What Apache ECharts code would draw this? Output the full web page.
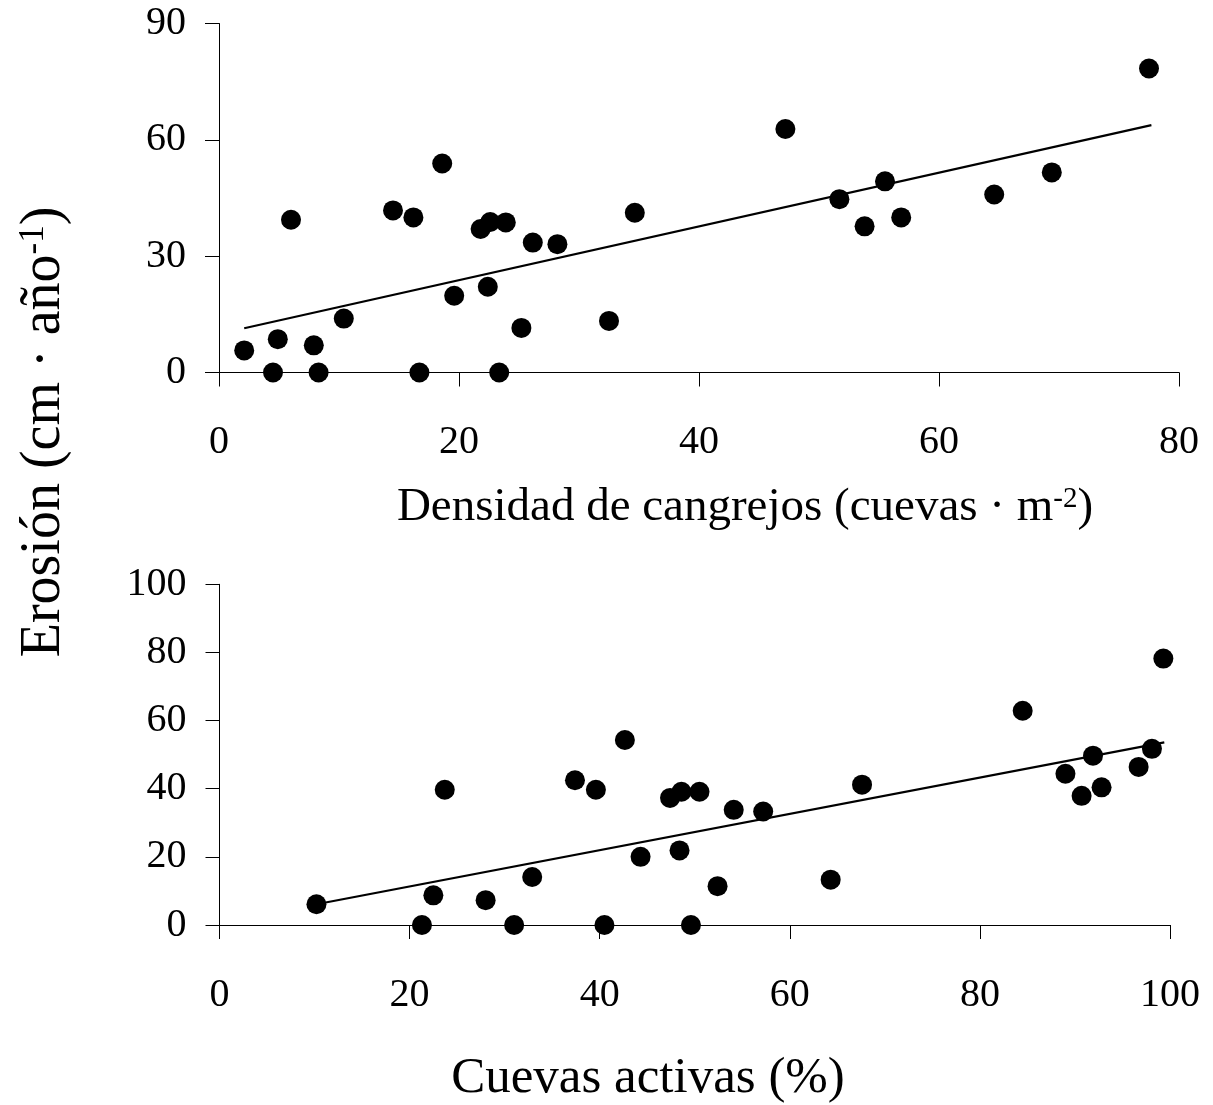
<!DOCTYPE html>
<html>
<head>
<meta charset="utf-8">
<script src="https://cdn.jsdelivr.net/npm/echarts@6/dist/echarts.min.js"></script>
<style>
html,body{margin:0;padding:0;background:#fff;}
#chart{width:1213px;height:1105px;}
</style>
</head>
<body>
<div id="chart"></div>
<script>
// Top panel: crab density (burrows per m2) vs erosion
const densityX = [2.1, 4.5, 4.9, 6.0, 7.9, 8.3, 10.4, 14.5, 16.2, 16.7, 18.6, 19.6, 21.8, 22.6, 22.4, 23.35, 23.9, 25.2, 26.15, 28.2, 32.5, 34.65, 47.2, 51.7, 53.8, 55.5, 56.85, 64.6, 69.4, 77.5];
const densityErosion = [5.7, 0, 8.6, 39.4, 7.0, 0, 13.9, 41.8, 40.0, 0, 53.9, 19.8, 37.0, 38.8, 22.1, 0, 38.7, 11.5, 33.5, 33.1, 13.3, 41.2, 62.8, 44.7, 37.7, 49.3, 40.0, 45.9, 51.6, 78.4];
const densityTrendX = [2.1, 77.7];
const densityTrendY = [11.4, 63.8];

// Bottom panel: active burrows (%) vs erosion
const activeX = [10.2, 21.3, 22.5, 23.7, 28.0, 31.0, 32.9, 37.4, 39.6, 40.5, 42.65, 44.3, 47.4, 48.6, 48.4, 49.6, 50.5, 52.4, 54.1, 57.2, 64.3, 67.6, 84.5, 89.0, 90.7, 91.9, 92.8, 96.7, 98.1, 99.3];
const activeErosion = [6.1, 0, 8.7, 39.7, 7.3, 0, 14.1, 42.5, 39.7, 0, 54.3, 20.0, 37.3, 39.1, 21.9, 0, 39.1, 11.4, 33.8, 33.3, 13.3, 41.2, 62.9, 44.4, 37.9, 49.7, 40.4, 46.4, 51.7, 78.2];
const activeTrendX = [10.2, 99.4];
const activeTrendY = [6.1, 53.6];

// Axis ticks
const topXTicks = [0, 20, 40, 60, 80];
const topYTicks = [0, 30, 60, 90];
const botXTicks = [0, 20, 40, 60, 80, 100];
const botYTicks = [0, 20, 40, 60, 80, 100];

// Titles
const yTitle = 'Erosión (cm · año{sup|-1})';
const topXTitle = 'Densidad de cangrejos (cuevas · m{sup|-2})';
const botXTitle = 'Cuevas activas (%)';

const zip = (a, b) => a.map((v, i) => [v, b[i]]);
const FONT = 'Liberation Serif';
const tickFont = 40;

function axisCommon(isX) {
  return {
    axisLine: { show: true, lineStyle: { color: '#000', width: 1 } },
    axisTick: { show: true, inside: false, length: 14, lineStyle: { color: '#000', width: 1 } },
    splitLine: { show: false },
    axisLabel: { color: '#000', fontFamily: FONT, fontSize: tickFont, margin: isX ? 50 : 33 }
  };
}

const chart = echarts.init(document.getElementById('chart'), null, { renderer: 'canvas' });

chart.setOption({
  backgroundColor: '#fff',
  animation: false,
  grid: [
    { left: 219, top: 23.5, width: 960, height: 349, containLabel: false },
    { left: 219.5, top: 584.3, width: 950.5, height: 340.7, containLabel: false }
  ],
  xAxis: [
    Object.assign(axisCommon(true), { type: 'value', gridIndex: 0, min: topXTicks[0], max: topXTicks[topXTicks.length - 1], interval: 20 }),
    Object.assign(axisCommon(true), { type: 'value', gridIndex: 1, min: botXTicks[0], max: botXTicks[botXTicks.length - 1], interval: 20 })
  ],
  yAxis: [
    Object.assign(axisCommon(false), { type: 'value', gridIndex: 0, min: topYTicks[0], max: topYTicks[topYTicks.length - 1], interval: 30 }),
    Object.assign(axisCommon(false), { type: 'value', gridIndex: 1, min: botYTicks[0], max: botYTicks[botYTicks.length - 1], interval: 20 })
  ],
  series: [
    { type: 'line', xAxisIndex: 0, yAxisIndex: 0, data: zip(densityTrendX, densityTrendY), symbol: 'none', lineStyle: { color: '#000', width: 2.2 }, z: 2 },
    { type: 'scatter', xAxisIndex: 0, yAxisIndex: 0, data: zip(densityX, densityErosion), symbol: 'circle', symbolSize: 20, itemStyle: { color: '#000', opacity: 1 }, z: 3 },
    { type: 'line', xAxisIndex: 1, yAxisIndex: 1, data: zip(activeTrendX, activeTrendY), symbol: 'none', lineStyle: { color: '#000', width: 2.2 }, z: 2 },
    { type: 'scatter', xAxisIndex: 1, yAxisIndex: 1, data: zip(activeX, activeErosion), symbol: 'circle', symbolSize: 20, itemStyle: { color: '#000', opacity: 1 }, z: 3 }
  ],
  graphic: [
    {
      type: 'text', x: 44, y: 432, rotation: Math.PI / 2,
      style: { text: yTitle, fontFamily: FONT, fontSize: 56, fill: '#000', align: 'center', verticalAlign: 'middle',
        rich: { sup: { fontFamily: FONT, fontSize: 35, verticalAlign: 'top', fill: '#000' } } }
    },
    {
      type: 'text', x: 745, y: 508,
      style: { text: topXTitle, fontFamily: FONT, fontSize: 47, fill: '#000', align: 'center', verticalAlign: 'middle',
        rich: { sup: { fontFamily: FONT, fontSize: 29, verticalAlign: 'top', fill: '#000' } } }
    },
    {
      type: 'text', x: 648, y: 1079,
      style: { text: botXTitle, fontFamily: FONT, fontSize: 51, fill: '#000', align: 'center', verticalAlign: 'middle' }
    }
  ]
});
</script>
</body>
</html>
